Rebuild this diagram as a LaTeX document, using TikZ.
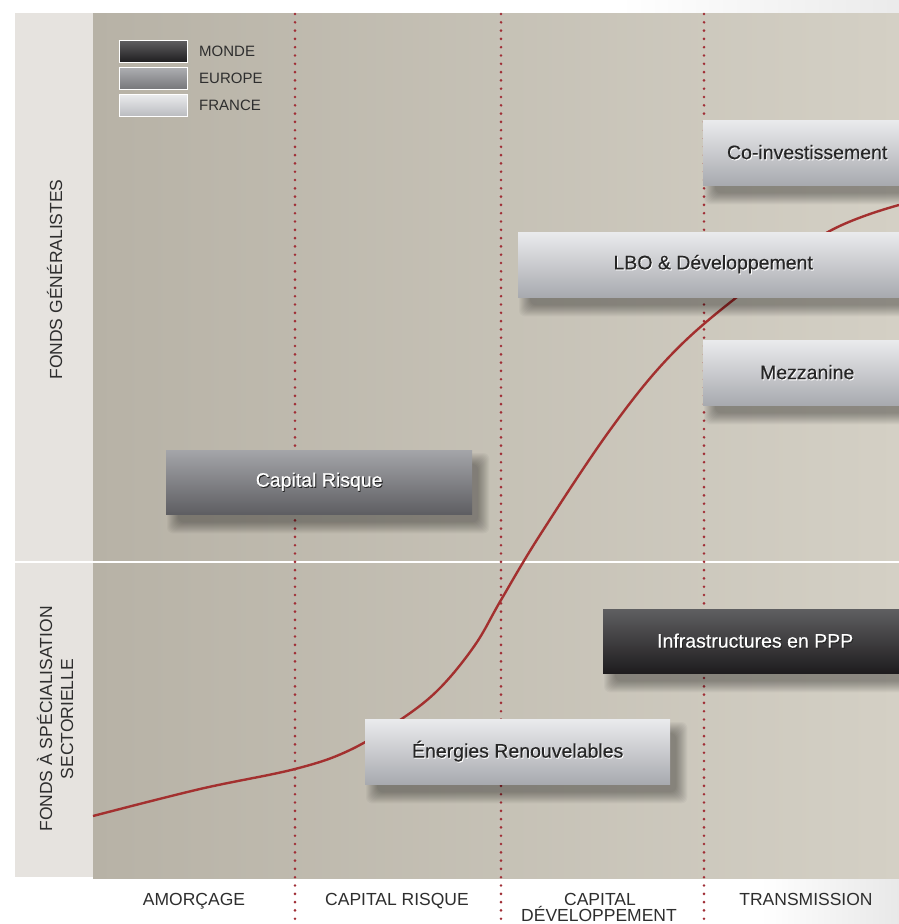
\documentclass[tikz,border=0pt]{standalone}
\usepackage{fontspec}
\setmainfont{Liberation Sans}
\newfontfamily\boxfont[FakeBold=0.35]{Liberation Sans}
\definecolor{bgL}{HTML}{B7B2A6}
\definecolor{bgR}{HTML}{D4D0C5}
\definecolor{colL}{HTML}{E6E3DF}
\definecolor{redc}{HTML}{A3302F}
\definecolor{dotc}{HTML}{A02E36}
\definecolor{frT}{HTML}{EAEBED}
\definecolor{frB}{HTML}{A8AAAF}
\definecolor{euT}{HTML}{A4A5A9}
\definecolor{euB}{HTML}{5E5E62}
\definecolor{moT}{HTML}{5F5F61}
\definecolor{moB}{HTML}{1E1C1E}
\definecolor{txt}{HTML}{262626}
\definecolor{lab}{HTML}{2E2E2E}
\pgfdeclarelayer{bg}
\pgfdeclarelayer{shad}
\pgfsetlayers{bg,shad,main}
\newcommand\embl[1]{\makebox[0pt][l]{\hspace{0.9pt}\raisebox{-1.1pt}{\textcolor{white}{#1}}}#1}
\newcommand\embd[1]{\makebox[0pt][l]{\hspace{0.9pt}\raisebox{-1.1pt}{\textcolor{black!85}{#1}}}#1}
\newcommand\boxshadow[1]{%
  \foreach \k in {0,...,11}{%
    \fill[black,opacity=0.032,rounded corners=6pt]
      ([shift={(12-\k,14-\k)}]#1.north west) rectangle ([shift={(6+\k,8+\k)}]#1.south east);}}
\tikzset{
  boxbase/.style={inner sep=0pt, minimum height=65, anchor=north west,
    font=\boxfont\fontsize{19.5}{22}\selectfont},
  lightbox/.style={boxbase, top color=frT, bottom color=frB, text=txt},
  midbox/.style={boxbase, top color=euT, bottom color=euB, text=white},
  darkbox/.style={boxbase, top color=moT, bottom color=moB, text=white},
  legbox/.style={draw=white, line width=1pt, minimum width=68, minimum height=22,
    inner sep=0pt, anchor=north west},
  legtxt/.style={anchor=west, inner sep=0pt, text=lab, font=\fontsize{15}{17}\selectfont},
  axislab/.style={anchor=base, inner sep=0pt, text=lab, font=\fontsize{17.5}{19}\selectfont},
  sidelab/.style={anchor=base, inner sep=0pt, rotate=90, text=lab, font=\fontsize{17.5}{19}\selectfont},
  dotline/.style={dotc, line width=2.9pt, line cap=round, dash pattern=on 0pt off 8.3pt},
  trend/.style={redc, line width=2.4pt, line join=round}
}
\begin{document}
\begin{tikzpicture}[x=1pt,y=-1pt]
\useasboundingbox (0,0) rectangle (899,924);
\begin{pgfonlayer}{bg}
\fill[white] (0,0) rectangle (899,924);
\fill[left color=white, right color=black!8] (620,0) rectangle (899,13);
\fill[left color=white, right color=black!9] (760,878) rectangle (899,924);
% columns
\fill[colL] (15,13) rectangle (93,877);
\fill[left color=bgL, right color=bgR] (93,13) rectangle (899,878);
% divider
\draw[white, line width=2.5pt] (15,562) -- (899,562);
% dotted stage separators
\coordinate (d1t) at (295,14); \coordinate (d1b) at (295,924);
\coordinate (d2t) at (501,14); \coordinate (d2b) at (501,924);
\coordinate (d3t) at (704,14); \coordinate (d3b) at (704,924);
\draw[dotline] (d1t) -- (d1b);
\draw[dotline] (d2t) -- (d2b);
\draw[dotline] (d3t) -- (d3b);
% trend curve
\draw[trend] plot[smooth, tension=0.6] coordinates {(93,816) (200,789) (295,769) (350,750) (403,718) (440,688) (475,645) (501,600) (540,535) (610,430) (670,356) (737,297) (828,232) (899,205)};
\end{pgfonlayer}
% boxes
\coordinate (pCo) at (703,120);
\coordinate (pLbo) at (518,232);
\coordinate (pMez) at (703,340);
\coordinate (pCr) at (166,450);
\coordinate (pInf) at (603,609);
\coordinate (pEn) at (365,719);
\node[lightbox, minimum width=208, at=(pCo)] (co) {\embl{Co-investissement}};
\node[lightbox, minimum width=390, at=(pLbo)] (lbo) {\embl{LBO \& Développement}};
\node[lightbox, minimum width=208, at=(pMez)] (mez) {\embl{Mezzanine}};
\node[midbox, minimum width=306, minimum height=64, at=(pCr)] (cr) {\embd{Capital Risque}};
\node[darkbox, minimum width=304, minimum height=64, at=(pInf)] (inf) {\embd{Infrastructures en PPP}};
\node[lightbox, minimum width=305, at=(pEn)] (en) {\embl{Énergies Renouvelables}};
\begin{pgfonlayer}{shad}
\boxshadow{co}
\boxshadow{lbo}
\boxshadow{mez}
\boxshadow{cr}
\boxshadow{inf}
\boxshadow{en}
\end{pgfonlayer}
% legend
\node[legbox, top color=moT, bottom color=moB] (lgm) at (119,40) {};
\node[legbox, top color=euT!90!white, bottom color=euB!85!white] (lge) at (119,67) {};
\node[legbox, top color=frT, bottom color=frB!80!white] (lgf) at (119,94) {};
\node[legtxt] (lgmt) at (199,51) {MONDE};
\node[legtxt] (lget) at (199,78) {EUROPE};
\node[legtxt] (lgft) at (199,105) {FRANCE};
% side labels
\node[sidelab] (s1) at (62,279.5) {FONDS GÉNÉRALISTES};
\node[sidelab] (s2a) at (52,719) {FONDS À SPÉCIALISATION};
\node[sidelab] (s2b) at (73,719) {SECTORIELLE};
% stage labels
\node[axislab] (a1) at (194,905) {AMORÇAGE};
\node[axislab] (a2) at (397,905) {CAPITAL RISQUE};
\node[axislab] (a3) at (600,905) {CAPITAL};
\node[axislab] (a3b) at (599,921) {DÉVELOPPEMENT};
\node[axislab] (a4) at (806,905) {TRANSMISSION};
\end{tikzpicture}
\end{document}
